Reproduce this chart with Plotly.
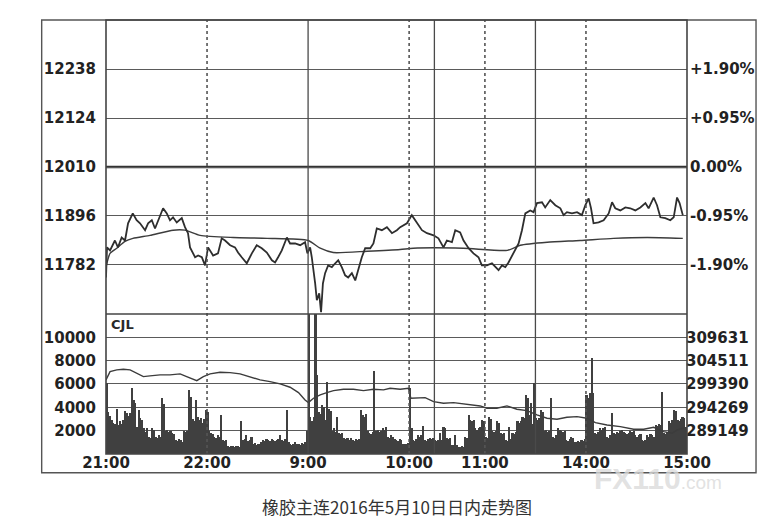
import plotly.graph_objects as go

# ---- data (x = trading minutes since 21:00; sessions 21:00-23:00, 9:00-10:15, 10:30-11:30, 13:30-15:00)
time_ticks = [0, 60, 120, 180, 225, 285, 345]
time_labels = ["21:00", "22:00", "9:00", "10:00", "11:00", "14:00", "15:00"]
solid_breaks = [120, 195, 255]
dotted_hours = [60, 180, 225, 285]

price_ticks = [11782, 11896, 12010, 12124, 12238]
price_labels = ["11782", "11896", "12010", "12124", "12238"]
pct_labels = ["-1.90%", "-0.95%", "0.00%", "+0.95%", "+1.90%"]
vol_ticks = [2000, 4000, 6000, 8000, 10000]
vol_labels = ["2000", "4000", "6000", "8000", "10000"]
oi_ticks = [289149, 294269, 299390, 304511, 309631]
oi_labels = ["289149", "294269", "299390", "304511", "309631"]

price_t = [0, 0.6, 2.4, 5.3, 7.1, 9.3, 11.3, 13.1, 15.9, 18.2,
           20.2, 23.2, 25.0, 27.2, 29.1, 31.5, 33.9, 36.1, 38.0, 39.8,
           42.0, 45.0, 46.9, 48.7, 49.9, 52.9, 54.7, 56.9, 58.8, 60.6,
           63.6, 66.5, 68.7, 70.7, 73.7, 76.6, 78.4, 80.6, 83.6, 86.6,
           89.5, 92.5, 95.5, 98.5, 100.4, 102.2, 104.4, 107.4, 109.3, 112.3,
           115.3, 118.2, 119.6, 121.2, 122.2, 124.2, 125.2, 126.6, 127.7, 128.8,
           130.1, 131.9, 134.1, 136.1, 137.9, 140.0, 142.0, 143.8, 146.0, 148.0,
           149.7, 151.9, 153.9, 156.9, 158.8, 160.8, 163.8, 166.8, 169.8, 172.7,
           174.7, 178.7, 181.6, 184.6, 187.6, 190.6, 194.5, 197.4, 200.4, 202.4,
           205.4, 207.4, 210.3, 212.3, 215.3, 218.2, 221.2, 223.2, 226.2, 229.2,
           231.1, 233.1, 235.1, 237.1, 239.0, 242.0, 245.0, 247.0, 249.0, 251.9,
           253.9, 255.9, 258.9, 260.8, 263.8, 266.8, 269.8, 271.7, 273.7, 276.7,
           279.7, 282.6, 284.6, 286.6, 288.0, 289.5, 292.5, 295.5, 298.5, 300.5,
           302.4, 305.4, 308.4, 311.3, 314.3, 317.3, 320.3, 322.2, 325.2, 327.2,
           329.2, 332.1, 335.1, 337.1, 339.1, 340.6, 342.5]
price_v = [11753, 11823, 11816, 11839, 11823, 11846, 11839, 11879, 11902, 11886,
           11879, 11863, 11879, 11886, 11867, 11893, 11914, 11902, 11886, 11893,
           11881, 11891, 11870, 11856, 11823, 11800, 11804, 11800, 11781, 11823,
           11804, 11809, 11844, 11839, 11828, 11823, 11811, 11800, 11786, 11809,
           11828, 11821, 11811, 11793, 11788, 11800, 11816, 11846, 11832, 11832,
           11828, 11835, 11809, 11823, 11800, 11739, 11700, 11716, 11672, 11739,
           11763, 11781, 11777, 11786, 11793, 11777, 11758, 11753, 11763, 11746,
           11770, 11800, 11821, 11821, 11832, 11867, 11863, 11870, 11856, 11863,
           11870, 11879, 11898, 11881, 11863, 11856, 11851, 11844, 11823, 11839,
           11835, 11863, 11858, 11839, 11821, 11809, 11800, 11781, 11781, 11786,
           11777, 11770, 11781, 11777, 11788, 11811, 11832, 11863, 11902, 11909,
           11905, 11926, 11928, 11916, 11933, 11921, 11914, 11898, 11905, 11902,
           11905, 11898, 11921, 11937, 11914, 11879, 11881, 11886, 11902, 11928,
           11914, 11909, 11916, 11914, 11909, 11916, 11926, 11914, 11939, 11921,
           11893, 11891, 11886, 11893, 11939, 11926, 11898]

avg_t = [0, 2.4, 6.4, 11.3, 16.0, 26.1, 39.8, 46.9, 55.9, 75.5,
         95.7, 120.0, 127.2, 134.9, 155.1, 174.7, 182.4, 212.1, 238.3, 246.0,
         262.0, 281.6, 301.3, 321.5, 342.5]
avg_v = [11777, 11809, 11821, 11837, 11844, 11851, 11863, 11863, 11851, 11846,
         11844, 11839, 11821, 11811, 11814, 11818, 11821, 11821, 11816, 11828,
         11835, 11839, 11844, 11846, 11844]

oi_t = [0, 2.4, 6.4, 10.3, 14.3, 18.2, 22.2, 26.1, 32.1, 38.0,
        44.0, 47.9, 53.9, 57.8, 61.8, 67.7, 73.7, 79.6, 85.6, 91.5,
        97.4, 103.4, 109.3, 114.3, 118.2, 120.2, 123.2, 127.2, 131.1, 135.1,
        141.0, 146.9, 152.9, 158.8, 164.8, 168.7, 174.7, 179.6, 181.0, 184.6,
        189.5, 194.5, 200.4, 206.4, 212.3, 218.2, 222.2, 226.2, 232.1, 238.1,
        244.0, 250.0, 255.9, 261.9, 267.8, 273.7, 279.7, 285.6, 290.6, 297.5,
        305.4, 313.3, 319.3, 325.2, 331.1, 336.1, 339.1, 343.0]
oi_v = [300288, 302111, 302485, 302638, 302485, 301760, 301013, 301167, 301386, 301386,
        301606, 301013, 300134, 301013, 301606, 301979, 301892, 301606, 300881, 300288,
        299914, 299409, 298684, 297498, 295894, 295301, 296267, 296992, 297498, 297937,
        298245, 298245, 297937, 298245, 298091, 298464, 298245, 298464, 296267, 296267,
        296399, 295520, 295169, 295301, 295015, 294795, 294576, 294070, 294070, 294576,
        293851, 293543, 292598, 291873, 291654, 292093, 292225, 291873, 290907, 290401,
        290028, 289457, 289457, 289896, 288929, 288578, 289303, 289742]

volume = [6100, 3600, 3300, 2900, 2700, 2600, 3900, 2500, 2800, 2600,
          2900, 3700, 3500, 3300, 3500, 5700, 4600, 4400, 2300, 3800,
          3100, 2900, 2200, 1900, 2200, 1500, 1400, 2200, 2100, 1500,
          1400, 1600, 1500, 4800, 4300, 2000, 2100, 1900, 2000, 1800,
          1700, 1200, 1100, 1300, 1200, 1000, 2000, 1900, 2000, 5500,
          4900, 3000, 2800, 4600, 3200, 2900, 3100, 2700, 3000, 3800,
          3600, 2000, 1800, 1700, 1500, 1400, 1600, 1500, 3350, 1200,
          1100, 1200, 700, 600, 650, 700, 600, 650, 700, 600,
          2800, 1200, 1300, 1600, 1100, 1200, 1500, 900, 950, 800,
          900, 850, 1000, 1200, 1100, 1300, 1200, 1100, 1300, 1200,
          1100, 1200, 1300, 1600, 1200, 1100, 1300, 3800, 1000, 900,
          800, 900, 1000, 850, 900, 800, 950, 900, 1000, 2000,
          13000, 3200, 2800, 3200, 13000, 6800, 3600, 3400, 4200, 4000,
          2900, 6200, 3900, 3700, 2000, 2200, 1900, 3200, 1800, 1700,
          1800, 1400, 1300, 1350, 1200, 1400, 1200, 1100, 1250, 1200,
          1300, 3800, 3350, 3200, 3400, 2000, 1800, 1700, 1900, 7150,
          2000, 2100, 1900, 2000, 2200, 2100, 2300, 1500, 1400, 1600,
          1500, 1300, 1200, 1100, 1250, 1200, 900, 850, 900, 950,
          5700, 2200, 1200, 1100, 1300, 1600, 1500, 1600, 2400, 1200,
          1100, 1300, 1350, 1300, 1400, 1200, 1150, 1200, 1800, 1200,
          2300, 2200, 1350, 1300, 1400, 770, 800, 1600, 750, 630,
          600, 650, 630, 1500, 1400, 3350, 2900, 2800, 2900, 2200,
          2100, 2200, 2300, 2900, 2800, 1500, 1400, 3150, 3000, 2000,
          1900, 2000, 2800, 2700, 1800, 1700, 1800, 1200, 1100, 2350,
          1300, 1800, 1700, 1900, 2800, 2700, 2800, 3200, 3100, 5060,
          4800, 3350, 4350, 2600, 6100, 3050, 2900, 3100, 3800, 3600,
          2000, 2100, 1900, 2000, 4800, 1500, 1400, 1600, 2200, 2100,
          2000, 1900, 2000, 1200, 1100, 1300, 1500, 1400, 1050, 1000,
          1100, 1050, 1200, 1100, 1250, 5060, 4800, 5200, 8200, 5200,
          1800, 1700, 1900, 2200, 2100, 2200, 2300, 1500, 1400, 1600,
          3500, 1800, 1700, 1900, 1800, 2000, 2100, 1900, 1800, 1700,
          1800, 2000, 1900, 2000, 1600, 1500, 1600, 1700, 1200, 1100,
          1200, 1600, 1500, 1700, 1600, 1500, 2500, 2400, 2600, 2500,
          5350, 1800, 1700, 1900, 2800, 2700, 2900, 3800, 3700, 2900,
          2800, 3000, 3200, 3100, 2350]
vol_x = [i + 0.5 for i in range(len(volume))]

caption = "橡胶主连2016年5月10日日内走势图"

# ---- figure (page body has an 8px default margin, so the figure is 8px smaller)
W, H = 764, 519
L, R, T, B = 98, 85.3, 11.5, 73
split = 0.3226  # boundary between price panel and volume panel (paper coords)

FONT = "DejaVu Sans"
TF = dict(family=FONT, size=15, color="#222222", weight="bold")
GRID = "#5a5a5a"

fig = go.Figure()

fig.add_trace(go.Bar(x=vol_x, y=volume, width=1.0, marker=dict(color="#404040", line=dict(width=0)),
                     yaxis="y3", hoverinfo="skip", showlegend=False))
fig.add_trace(go.Scatter(x=oi_t, y=oi_v, mode="lines", line=dict(color="#3c3c3c", width=1.4),
                         yaxis="y4", hoverinfo="skip", showlegend=False))
fig.add_trace(go.Scatter(x=avg_t, y=avg_v, mode="lines",
                         line=dict(color="#3c3c3c", width=1.4, shape="spline", smoothing=0.6),
                         yaxis="y", hoverinfo="skip", showlegend=False))
fig.add_trace(go.Scatter(x=price_t, y=price_v, mode="lines", line=dict(color="#2e2e2e", width=1.8),
                         yaxis="y", hoverinfo="skip", showlegend=False))
# invisible anchor trace so the right-hand percentage axis is drawn
fig.add_trace(go.Scatter(x=[0], y=[12010], mode="markers", marker=dict(opacity=0),
                         yaxis="y2", hoverinfo="skip", showlegend=False))

shapes = []
for t in solid_breaks:
    shapes.append(dict(type="line", xref="x", yref="paper", x0=t, x1=t, y0=0, y1=1,
                       line=dict(color="#4a4a4a", width=1.3), layer="above"))
for t in dotted_hours:
    shapes.append(dict(type="line", xref="x", yref="paper", x0=t, x1=t, y0=0, y1=1,
                       line=dict(color="#555555", width=1.6, dash="dot"), layer="above"))
# previous-settle line (12010) drawn heavier
shapes.append(dict(type="line", xref="paper", yref="y", x0=0, x1=1, y0=12010, y1=12010,
                   line=dict(color="#333333", width=2.4), layer="below"))
# plot frame and panel separator
shapes.append(dict(type="rect", xref="paper", yref="paper", x0=0, x1=1, y0=0, y1=1,
                   line=dict(color="#444444", width=1.6), layer="above"))
shapes.append(dict(type="line", xref="paper", yref="paper", x0=0, x1=1, y0=split, y1=split,
                   line=dict(color="#444444", width=1.6), layer="above"))
# outer frame
shapes.append(dict(type="rect", xref="paper", yref="paper", x0=-0.1107, x1=1.1188, y0=-0.0431, y1=1.0,
                   line=dict(color="#555555", width=1.4), layer="below"))

annotations = [
    dict(text="CJL", xref="paper", yref="paper", x=0.005, y=0.298, xanchor="left", yanchor="middle",
         showarrow=False, font=dict(family=FONT, size=13, color="#2a2a2a", weight="bold")),
    dict(text=caption, xref="paper", yref="paper", x=0.501, y=-0.1214, xanchor="center", yanchor="middle",
         showarrow=False, font=dict(family="Noto Sans CJK SC", size=17, color="#333333")),
    dict(text="<b>FX110</b><span style='font-size:19px'>.com</span>", xref="paper", yref="paper",
         x=0.95, y=-0.056, xanchor="center", yanchor="middle", showarrow=False,
         font=dict(family="Liberation Sans", size=30, color="rgba(218,218,218,0.8)")),
]

fig.update_layout(
    width=W, height=H,
    margin=dict(l=L, r=R, t=T, b=B, pad=0),
    paper_bgcolor="white", plot_bgcolor="white",
    showlegend=False, bargap=0,
    font=dict(family=FONT, color="#222222"),
    xaxis=dict(domain=[0, 1], anchor="y3", range=[0, 345], tickmode="array", tickvals=time_ticks,
               ticktext=time_labels, showgrid=False, zeroline=False, showline=False,
               ticks="", ticklabelstandoff=-2, tickfont=TF, automargin=False),
    yaxis=dict(domain=[split, 1], anchor="x", range=[11668, 12352], tickmode="array",
               tickvals=price_ticks, ticktext=price_labels, showgrid=True, gridcolor=GRID, gridwidth=1.2,
               zeroline=False, showline=False, ticks="outside", ticklen=6, tickcolor="rgba(0,0,0,0)",
               tickfont=TF, automargin=False),
    yaxis2=dict(overlaying="y", side="right", anchor="x", range=[11668, 12352], tickmode="array",
                tickvals=price_ticks, ticktext=pct_labels, showgrid=False, zeroline=False, showline=False,
                ticks="", ticklabelstandoff=2, tickfont=TF, automargin=False),
    yaxis3=dict(domain=[0, split], anchor="x", range=[0, 12000], tickmode="array", tickvals=vol_ticks,
                ticktext=vol_labels, showgrid=True, gridcolor=GRID, gridwidth=1.2, zeroline=False,
                showline=False, ticks="outside", ticklen=6, tickcolor="rgba(0,0,0,0)",
                tickfont=TF, automargin=False),
    yaxis4=dict(overlaying="y3", side="right", anchor="x", range=[284028.5, 314751.5], tickmode="array",
                tickvals=oi_ticks, ticktext=oi_labels, showgrid=False, zeroline=False, showline=False,
                ticks="", ticklabelstandoff=-2, tickfont=TF, automargin=False),
    shapes=shapes,
    annotations=annotations,
)

fig.write_html("out.html")
